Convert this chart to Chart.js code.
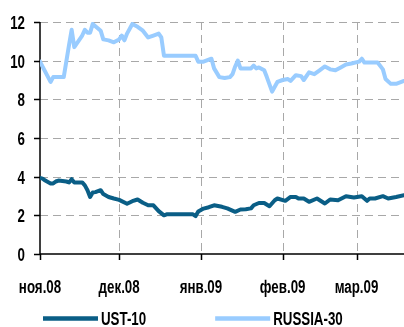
<!DOCTYPE html>
<html>
<head>
<meta charset="utf-8">
<script src="https://cdn.jsdelivr.net/npm/chart.js@4/dist/chart.umd.min.js"></script>
<style>
    html, body { margin: 0; padding: 0; background: #fff; }
    #wrap { width: 404px; height: 327px; position: relative; }
</style>
</head>
<body>
<div id="wrap"><canvas id="chart"></canvas></div>
<script>
// дни от 1 ноября 2008
const monthDays = [0, 30, 61, 92, 120];
const monthLabels = ["ноя.08", "дек.08", "янв.09", "фев.09", "мар.09"];
const yTicks = [0, 2, 4, 6, 8, 10, 12];

const ustDays = [0, 1, 2, 4, 5, 6, 7, 10, 11, 12, 13, 16, 17, 18, 19, 20, 21, 23, 24, 26, 28, 30,
    33, 35, 37, 39, 41, 43, 45, 47, 48, 58, 59, 60, 62, 64, 66, 69, 71, 74, 76, 78, 80, 81, 83, 85,
    87, 89, 90, 93, 95, 97, 98, 100, 102, 105, 108, 110, 113, 116, 119, 122, 124, 125, 127, 130,
    132, 135, 138];
const ustVals = [3.93, 3.9, 3.8, 3.65, 3.65, 3.75, 3.8, 3.75, 3.7, 3.87, 3.7, 3.7, 3.55, 3.3, 2.95,
    3.18, 3.2, 3.3, 3.1, 2.95, 2.87, 2.8, 2.6, 2.73, 2.82, 2.65, 2.52, 2.52, 2.22, 2.0, 2.05, 2.05,
    1.96, 2.2, 2.35, 2.42, 2.52, 2.44, 2.36, 2.18, 2.3, 2.32, 2.36, 2.52, 2.64, 2.64, 2.47, 2.78,
    2.87, 2.75, 2.95, 2.95, 2.87, 2.87, 2.7, 2.87, 2.61, 2.82, 2.78, 2.99, 2.92, 2.99, 2.75, 2.87,
    2.87, 2.99, 2.87, 2.95, 3.04];

const rusDays = [0, 4, 5, 6, 9, 11, 12, 13, 16, 17, 18, 19, 20, 23, 24, 26, 28, 30, 31, 32, 33, 35,
    37, 39, 41, 43, 45, 46, 47, 59, 60, 62, 64, 65, 66, 68, 70, 72, 73, 74, 75, 76, 80, 81, 82, 83,
    85, 86, 88, 89, 90, 92, 94, 95, 97, 99, 100, 102, 104, 106, 108, 110, 112, 114, 116, 118, 121,
    122, 123, 128, 130, 131, 133, 135, 137, 138];
const rusVals = [9.95, 8.9, 9.15, 9.15, 9.15, 10.8, 11.6, 10.7, 11.3, 11.6, 11.45, 11.45, 11.9,
    11.55, 11.1, 11.05, 10.95, 11.1, 11.3, 11.05, 11.4, 11.9, 11.75, 11.55, 11.2, 11.3, 11.4, 11.2,
    10.25, 10.25, 9.95, 9.95, 10.05, 10.1, 9.6, 9.15, 9.1, 9.15, 9.3, 9.7, 10.0, 9.6, 9.6, 9.75,
    9.6, 9.65, 9.5, 9.15, 8.4, 8.65, 8.9, 9.0, 9.05, 8.95, 9.25, 9.2, 9.0, 9.4, 9.3, 9.5, 9.7,
    9.55, 9.5, 9.65, 9.8, 9.85, 9.95, 10.1, 9.9, 9.9, 9.55, 9.05, 8.8, 8.8, 8.9, 8.95];

const FONT = "bold 18px 'Liberation Sans', Arial, sans-serif";
const SQUEEZE = 0.74;

function toPoints(days, vals) {
    return days.map((d, i) => ({ x: d, y: vals[i] }));
}

// узкий шрифт: рисуем текст со сжатием по горизонтали
function narrowText(ctx, text, x, y, align) {
    const w = ctx.measureText(text).width * SQUEEZE;
    let left = x;
    if (align === "center") left = x - w / 2;
    if (align === "right") left = x - w;
    ctx.save();
    ctx.translate(left, y);
    ctx.scale(SQUEEZE, 1);
    ctx.textAlign = "left";
    ctx.fillText(text, 0, 0);
    ctx.restore();
    return w;
}

// подписи, легенда, а затем оси и сетка позади линий (destination-over)
const axisText = {
    id: "axisText",
    afterDraw(chart) {
        const ctx = chart.ctx;
        const a = chart.chartArea;
        const xs = chart.scales.x;
        const ys = chart.scales.y;
        ctx.save();
        ctx.font = FONT;
        ctx.fillStyle = "#000";
        ctx.textBaseline = "alphabetic";

        monthDays.forEach((d, i) => {
            narrowText(ctx, monthLabels[i], xs.getPixelForValue(d), 293, "center");
        });
        yTicks.forEach(v => {
            narrowText(ctx, String(v), 25, ys.getPixelForValue(v) + 7, "right");
        });

        let x = 43;
        chart.data.datasets.forEach(ds => {
            ctx.strokeStyle = ds.borderColor;
            ctx.lineWidth = 4.5;
            ctx.beginPath();
            ctx.moveTo(x, 318.5);
            ctx.lineTo(x + 55, 318.5);
            ctx.stroke();
            const w = narrowText(ctx, ds.label, x + 58, 325, "left");
            x += 58 + w + 69;
        });

        ctx.globalCompositeOperation = "destination-over";

        // оси и засечки
        ctx.strokeStyle = "#000";
        ctx.lineWidth = 1.5;
        ctx.beginPath();
        ctx.moveTo(a.left, a.top);
        ctx.lineTo(a.left, a.bottom);
        ctx.lineTo(a.right, a.bottom);
        yTicks.forEach(v => {
            const y = Math.round(ys.getPixelForValue(v)) + 0.5;
            ctx.moveTo(a.left - 6, y);
            ctx.lineTo(a.left, y);
        });
        monthDays.forEach(d => {
            const px = Math.round(xs.getPixelForValue(d)) + 0.5;
            ctx.moveTo(px, a.bottom);
            ctx.lineTo(px, a.bottom + 6);
        });
        ctx.stroke();

        // пунктирная сетка
        ctx.lineWidth = 1;
        ctx.strokeStyle = "#a8a8a8";
        ctx.setLineDash([8, 5]);
        yTicks.forEach(v => {
            if (v === 0) return;
            const y = Math.round(ys.getPixelForValue(v)) + 0.5;
            ctx.beginPath();
            ctx.moveTo(a.left, y);
            ctx.lineTo(a.right, y);
            ctx.stroke();
        });
        monthDays.forEach(d => {
            if (d === 0) return;
            const px = Math.round(xs.getPixelForValue(d)) + 0.5;
            ctx.beginPath();
            ctx.moveTo(px, a.top);
            ctx.lineTo(px, a.bottom);
            ctx.stroke();
        });
        ctx.restore();
    }
};

const chart = new Chart(document.getElementById("chart"), {
    type: "line",
    data: {
        datasets: [
            {
                label: "UST-10",
                data: toPoints(ustDays, ustVals),
                borderColor: "#0a5e86",
            },
            {
                label: "RUSSIA-30",
                data: toPoints(rusDays, rusVals),
                borderColor: "#99ccff",
            }
        ]
    },
    options: {
        responsive: true,
        maintainAspectRatio: false,
        animation: false,
        layout: { padding: { top: 22, right: 0, bottom: 73, left: 40 } },
        elements: {
            point: { radius: 0 },
            line: { borderWidth: 4, tension: 0, borderJoinStyle: "round", borderCapStyle: "round" }
        },
        plugins: {
            legend: { display: false },
            tooltip: { enabled: false }
        },
        scales: {
            x: { type: "linear", min: 0, max: 138, display: false },
            y: { min: 0, max: 12, display: false }
        }
    },
    plugins: [axisText]
});
</script>
</body>
</html>
